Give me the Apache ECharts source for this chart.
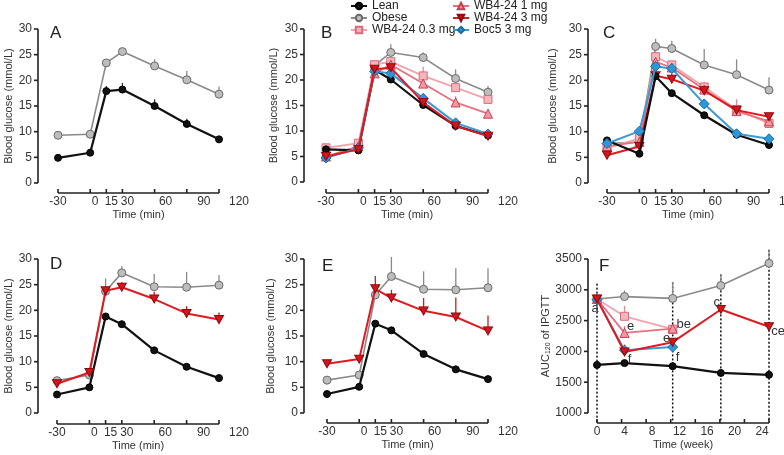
<!DOCTYPE html>
<html><head><meta charset="utf-8">
<script src="https://cdn.jsdelivr.net/npm/echarts@6/dist/echarts.min.js"></script>
<style>html,body{margin:0;padding:0;background:#fff}#c{width:784px;height:455px}</style>
</head><body><div id="c"></div>
<script>
const FONT = "'Liberation Sans',Arial,sans-serif";

// ---------- data ----------
const timeMin = [-30, 0, 15, 30, 60, 90, 120];
const timeTickLabels = [-30, 0, 15, 30, 60, 90, 120];
const glucoseTicks = [0, 5, 10, 15, 20, 25, 30];
const aucTicks = [1000, 1500, 2000, 2500, 3000, 3500];
const weekTickLabels = [0, 4, 8, 12, 16, 20, 24];
const fWeeks = [0, 4, 11, 18, 25];
const fWeeksShort = [0, 4, 11];

// Panel A
const aLean = [4.9, 5.9, 17.9, 18.2, 15.0, 11.5, 8.5];
const aLeanErr = [0.2, 0.3, 1.0, 1.3, 1.3, 1.0, 0.4];
const aObese = [9.3, 9.5, 23.4, 25.6, 22.8, 20.1, 17.3];
const aObeseErr = [0.3, 0.3, 0.5, 0.4, 1.3, 1.7, 1.5];
// Panel B
const bLean = [6.4, 6.2, 22.0, 20.1, 15.1, 11.0, 9.1];
const bLeanErr = [0.2, 0.3, 0.5, 0.5, 0.5, 0.5, 0.4];
const bObese = [4.9, 7.0, 22.8, 25.4, 24.4, 20.3, 17.6];
const bObeseErr = [0.3, 0.4, 0.8, 1.6, 1.0, 1.8, 1.2];
const b03 = [6.7, 7.6, 23.0, 23.6, 20.8, 18.5, 16.2];
const b03Err = [0.3, 0.4, 0.6, 0.8, 1.8, 1.0, 1.0];
const b1 = [5.0, 7.0, 21.3, 23.0, 19.3, 15.6, 13.4];
const b1Err = [0.3, 0.3, 1.0, 0.8, 1.3, 1.2, 0.8];
const b3 = [5.0, 6.4, 22.1, 22.4, 15.6, 11.0, 9.0];
const b3Err = [0.3, 0.3, 0.8, 0.9, 0.8, 0.6, 0.6];
const bBoc = [4.7, 6.7, 21.7, 21.3, 16.4, 11.6, 9.4];
const bBocErr = [0.3, 0.3, 0.6, 0.6, 0.8, 0.6, 0.5];
// Panel C
const cLean = [8.3, 5.7, 20.8, 17.5, 13.2, 9.4, 7.4];
const cLeanErr = [0.3, 0.3, 0.6, 0.6, 0.4, 0.3, 0.3];
const cObese = [7.7, 8.0, 26.6, 26.2, 23.0, 21.1, 18.1];
const cObeseErr = [0.5, 0.8, 1.5, 1.5, 3.1, 3.0, 2.5];
const c03 = [6.8, 8.7, 24.6, 23.0, 18.7, 14.3, 11.6];
const c03Err = [0.8, 1.0, 1.0, 0.8, 1.0, 2.0, 1.0];
const c1 = [7.2, 8.0, 23.6, 22.5, 18.2, 14.0, 12.0];
const c1Err = [0.8, 0.8, 1.0, 1.0, 0.8, 1.2, 1.0];
const c3 = [5.4, 7.1, 20.9, 20.2, 18.0, 14.2, 12.9];
const c3Err = [0.4, 0.8, 1.0, 1.2, 1.0, 1.0, 0.8];
const cBoc = [7.7, 10.1, 22.7, 22.3, 15.4, 9.6, 8.6];
const cBocErr = [0.4, 0.6, 0.8, 0.6, 0.8, 0.5, 0.5];
// Panel D
const dLean = [3.6, 5.0, 18.8, 17.3, 12.2, 9.0, 6.8];
const dLeanErr = [0.2, 0.3, 0.4, 0.4, 0.4, 0.4, 0.3];
const dObese = [6.3, 7.4, 23.7, 27.3, 24.6, 24.5, 24.9];
const dObeseErr = [0.3, 0.6, 2.5, 1.3, 2.5, 3.0, 2.0];
const d3 = [5.7, 7.9, 23.8, 24.5, 22.2, 19.4, 18.2];
const d3Err = [0.3, 0.5, 0.9, 1.0, 1.4, 1.4, 1.4];
// Panel E
const eLean = [3.7, 5.1, 17.4, 16.1, 11.5, 8.5, 6.6];
const eLeanErr = [0.2, 0.3, 0.4, 0.4, 0.4, 0.3, 0.3];
const eObese = [6.4, 7.4, 23.0, 26.6, 24.1, 24.0, 24.4];
const eObeseErr = [0.6, 0.6, 1.5, 3.8, 3.5, 4.2, 3.8];
const e3 = [9.6, 10.5, 24.2, 22.4, 19.9, 18.7, 16.0];
const e3Err = [0.3, 0.4, 2.5, 1.6, 2.5, 3.8, 3.0];
// Panel F (AUC)
const fLean = [1780, 1810, 1760, 1650, 1620];
const fLeanErr = [30, 40, 30, 30, 30];
const fObese = [2850, 2890, 2860, 3070, 3430];
const fObeseErr = [60, 100, 260, 170, 220];
const f3 = [2850, 1990, 2150, 2680, 2400];
const f3Err = [40, 120, 60, 80, 60];
const f03 = [2850, 2570, 2360];
const f03Err = [0, 170, 80];
const f1 = [2850, 2300, 2370];
const f1Err = [0, 110, 60];
const fBoc = [2840, 2020, 2070];
const fBocErr = [0, 60, 40];
const fDashWeeks = [0, 11, 18, 25];
const fDashTop = [3100, 3120, 3250, 3650];
const f3Notes = ['a', 'f', 'e', 'c', 'ce'];
const f1Notes = ['', 'e', ''];
const f03Notes = ['', '', 'be'];
const fBocNotes = ['', '', 'f'];

// ---------- styles ----------
const DOWN_TRI = 'path://M0,0L20,0L10,17Z';
const STY = {
  lean:  {name: 'Lean', symbol: 'circle', size: 7, line: '#111', fill: '#111', border: '#000', err: '#333', w: 2.2},
  obese: {name: 'Obese', symbol: 'circle', size: 8, line: '#8a8a8a', fill: '#bdbdbd', border: '#6a6a6a', err: '#8a8a8a', w: 1.6},
  w03:   {name: 'WB4-24 0.3 mg', symbol: 'rect', size: 8, line: '#f3a3ad', fill: '#f5b5bd', border: '#d46e7a', err: '#e88a96', w: 1.8},
  w1:    {name: 'WB4-24 1 mg', symbol: 'triangle', size: 9, line: '#e8707e', fill: '#f298a3', border: '#c8404f', err: '#e8707e', w: 1.8},
  w3:    {name: 'WB4-24 3 mg', symbol: DOWN_TRI, size: [9, 8], line: '#e01a21', fill: '#d4151c', border: '#8f0a0f', err: '#d01a20', w: 2},
  boc:   {name: 'Boc5 3 mg', symbol: 'diamond', size: 10, line: '#3b9ad6', fill: '#2c98d8', border: '#1a6aa3', err: '#3b9ad6', w: 2}
};
const AX = '#333';
const FRAME = '#222';
const grids = [
  {left: 58, top: 29, width: 161, height: 154},
  {left: 326, top: 29, width: 162, height: 153},
  {left: 607, top: 29, width: 162, height: 154},
  {left: 57, top: 259, width: 162, height: 154},
  {left: 327, top: 259, width: 161, height: 154},
  {left: 597, top: 259, width: 172, height: 154}
];
const yOff = [20, 22, 19, 19, 23, 9];
const xOff = [10, 11, 10, 11, 10, 10];
const yGap = [24, 25, 30, 24, 28, 34];
const labelShift = {'-30': 0, '0': 5, '15': 5, '30': 5, '60': 11, '90': 17, '120': 20};

const rich = {};
Object.values(labelShift).forEach(s => {
  rich['s' + s] = {padding: [0, 0, 0, 2 * s], fontSize: 12, color: AX, fontFamily: FONT};
});

const xAxes = [];
const yAxes = [];
for (let g = 0; g < 5; g++) {
  xAxes.push({
    type: 'value', gridIndex: g, min: -30, max: 120, offset: xOff[g], position: 'bottom',
    name: 'Time (min)', nameLocation: 'middle', nameGap: 16,
    nameTextStyle: {fontSize: 11, color: AX, fontFamily: FONT},
    axisLine: {show: false, onZero: false},
    axisTick: {show: false},
    axisLabel: {customValues: timeTickLabels, margin: 3, formatter: v => '{s' + labelShift[String(v)] + '|' + v + '}', rich: rich},
    splitLine: {show: false}
  });
  yAxes.push({
    type: 'value', gridIndex: g, min: 0, max: 30, interval: 5, offset: yOff[g], position: 'left',
    name: 'Blood glucose (mmol/L)', nameLocation: 'middle', nameGap: yGap[g], nameRotate: 90,
    nameTextStyle: {fontSize: 11, color: AX, fontFamily: FONT},
    axisLine: {show: false, onZero: false},
    axisTick: {show: false},
    axisLabel: {margin: 6, fontSize: 12, color: AX, fontFamily: FONT},
    splitLine: {show: false}
  });
}
xAxes.push({
  type: 'value', gridIndex: 5, min: 0, max: 25, offset: xOff[5], position: 'bottom',
  name: 'Time (week)', nameLocation: 'middle', nameGap: 16,
  nameTextStyle: {fontSize: 11, color: AX, fontFamily: FONT},
  axisLine: {show: false, onZero: false},
  axisTick: {show: false},
  axisLabel: {customValues: weekTickLabels, margin: 3, fontSize: 12, color: AX, fontFamily: FONT},
  splitLine: {show: false}
});
yAxes.push({
  type: 'value', gridIndex: 5, min: 1000, max: 3500, interval: 500, offset: yOff[5], position: 'left',
  name: 'AUC{sub|120} of IPGTT', nameLocation: 'middle', nameGap: yGap[5], nameRotate: 90,
  nameTextStyle: {fontSize: 11, color: AX, fontFamily: FONT,
    rich: {sub: {fontSize: 7, color: AX, fontFamily: FONT, verticalAlign: 'bottom', padding: [3, 0, 0, 0]}}},
  axisLine: {show: false, onZero: false},
  axisTick: {show: false},
  axisLabel: {margin: 6, fontSize: 12, color: AX, fontFamily: FONT, formatter: v => String(v)},
  splitLine: {show: false}
});

// detached axis frame (lines + ticks) drawn through each grid's own scales
const fTickVals = [0, 1, 2, 3, 4, 5, 6, 7].map(i => i * 25 / 7);
function frameS(g, xr, yr, xTicks, yTicks) {
  return {
    type: 'custom', xAxisIndex: g, yAxisIndex: g, z: 2, silent: true, animation: false, clip: false,
    data: [[xr[0], yr[0]]],
    renderItem: (p, api) => {
      const o = api.coord([xr[0], yr[0]]);
      const e = api.coord([xr[1], yr[1]]);
      const yb = o[1] + xOff[g];
      const xl = o[0] - yOff[g];
      const mk = (x1, y1, x2, y2) => ({type: 'line', shape: {x1: x1, y1: y1, x2: x2, y2: y2},
        style: {stroke: FRAME, lineWidth: 1.6, fill: null}});
      const ch = [mk(o[0], yb, e[0], yb), mk(xl, o[1], xl, e[1])];
      xTicks.forEach(v => {
        const c = api.coord([v, yr[0]]);
        ch.push(mk(c[0], yb, c[0], yb - 4));
      });
      yTicks.forEach(v => {
        const c = api.coord([xr[0], v]);
        ch.push(mk(xl, c[1], xl - 4, c[1]));
      });
      return {type: 'group', children: ch};
    }
  };
}

// ---------- series helpers ----------
function lineS(key, g, xs, ys, z, notes, notePos) {
  const s = STY[key];
  return {
    type: 'line', name: s.name, xAxisIndex: g, yAxisIndex: g, z: z, animation: false, silent: true,
    data: xs.map((x, i) => {
      const item = {value: [x, ys[i]]};
      if (notes && notes[i]) {
        item.label = {show: true, formatter: notes[i], position: 'inside', offset: notePos[notes[i] + i],
          fontSize: 13, color: '#333', fontFamily: FONT};
      }
      return item;
    }),
    symbol: s.symbol, symbolSize: s.size, showSymbol: true,
    lineStyle: {color: s.line, width: s.w},
    itemStyle: {color: s.fill, borderColor: s.border, borderWidth: 1},
    emphasis: {disabled: true}
  };
}
function errS(key, g, xs, ys, es) {
  const c = STY[key].err;
  return {
    type: 'custom', xAxisIndex: g, yAxisIndex: g, z: 1, silent: true, animation: false,
    data: xs.map((x, i) => [x, ys[i], ys[i] + es[i]]),
    renderItem: (p, api) => {
      const a = api.coord([api.value(0), api.value(1)]);
      const b = api.coord([api.value(0), api.value(2)]);
      return {type: 'line', shape: {x1: a[0], y1: a[1], x2: b[0], y2: b[1]}, style: {stroke: c, lineWidth: 1.3}};
    }
  };
}
function pair(key, g, xs, ys, es, z, notes, notePos) {
  return [errS(key, g, xs, ys, es), lineS(key, g, xs, ys, z, notes, notePos)];
}

const series = [].concat(
  [0, 1, 2, 3, 4].map(g => frameS(g, [-30, 120], [0, 30], timeMin, glucoseTicks)),
  [frameS(5, [0, 25], [1000, 3500], fTickVals, aucTicks)],
  pair('obese', 0, timeMin, aObese, aObeseErr, 3),
  pair('lean', 0, timeMin, aLean, aLeanErr, 4),
  pair('obese', 1, timeMin, bObese, bObeseErr, 3),
  pair('w03', 1, timeMin, b03, b03Err, 4),
  pair('w1', 1, timeMin, b1, b1Err, 5),
  pair('lean', 1, timeMin, bLean, bLeanErr, 6),
  pair('boc', 1, timeMin, bBoc, bBocErr, 7),
  pair('w3', 1, timeMin, b3, b3Err, 8),
  pair('obese', 2, timeMin, cObese, cObeseErr, 3),
  pair('w03', 2, timeMin, c03, c03Err, 4),
  pair('w1', 2, timeMin, c1, c1Err, 5),
  pair('w3', 2, timeMin, c3, c3Err, 6),
  pair('lean', 2, timeMin, cLean, cLeanErr, 7),
  pair('boc', 2, timeMin, cBoc, cBocErr, 8),
  pair('obese', 3, timeMin, dObese, dObeseErr, 3),
  pair('lean', 3, timeMin, dLean, dLeanErr, 4),
  pair('w3', 3, timeMin, d3, d3Err, 5),
  pair('obese', 4, timeMin, eObese, eObeseErr, 3),
  pair('lean', 4, timeMin, eLean, eLeanErr, 4),
  pair('w3', 4, timeMin, e3, e3Err, 5),
  [{
    type: 'custom', xAxisIndex: 5, yAxisIndex: 5, z: 1, silent: true, animation: false, clip: false,
    data: fDashWeeks.map((w, i) => [w, fDashTop[i]]),
    renderItem: (p, api) => {
      const a = api.coord([api.value(0), api.value(1)]);
      const b = api.coord([api.value(0), 1000]);
      return {type: 'line', shape: {x1: a[0], y1: a[1], x2: b[0], y2: b[1] + 10},
        style: {stroke: '#111', lineWidth: 1.5, lineDash: [2, 2]}};
    }
  }],
  pair('lean', 5, fWeeks, fLean, fLeanErr, 3),
  pair('obese', 5, fWeeks, fObese, fObeseErr, 4),
  pair('w03', 5, fWeeksShort, f03, f03Err, 5, f03Notes, {be2: [11, -5]}),
  pair('w1', 5, fWeeksShort, f1, f1Err, 6, f1Notes, {e1: [6, -6]}),
  pair('boc', 5, fWeeksShort, fBoc, fBocErr, 7, fBocNotes, {f2: [5, 10]}),
  pair('w3', 5, fWeeks, f3, f3Err, 8, f3Notes, {a0: [-2, 9], f1: [5, 7], e2: [-6, -4], c3: [-4, -7], ce4: [9, 5]})
);

const letters = [['A', 50, 25], ['B', 321, 25], ['C', 603, 25], ['D', 50, 256], ['E', 322, 258], ['F', 599, 258]];

const legendBase = {top: 0, orient: 'vertical', itemGap: 0, itemWidth: 16, itemHeight: 8, padding: 0, selectedMode: false,
  textStyle: {fontSize: 12, color: '#222', fontFamily: FONT, lineHeight: 11}};
const option = {
  animation: false,
  grid: grids.map(g => Object.assign({containLabel: false, outerBoundsMode: 'none'}, g)),
  xAxis: xAxes,
  yAxis: yAxes,
  legend: [
    Object.assign({left: 350, data: ['Lean', 'Obese', 'WB4-24 0.3 mg']}, legendBase),
    Object.assign({left: 452, data: ['WB4-24 1 mg', 'WB4-24 3 mg', 'Boc5 3 mg']}, legendBase)
  ],
  graphic: letters.map(l => ({type: 'text', left: l[1], top: l[2],
    style: {text: l[0], fontSize: 17, fill: '#222', fontFamily: FONT}})),
  series: series
};
const chart = echarts.init(document.getElementById('c'));
chart.setOption(option);
</script></body></html>
